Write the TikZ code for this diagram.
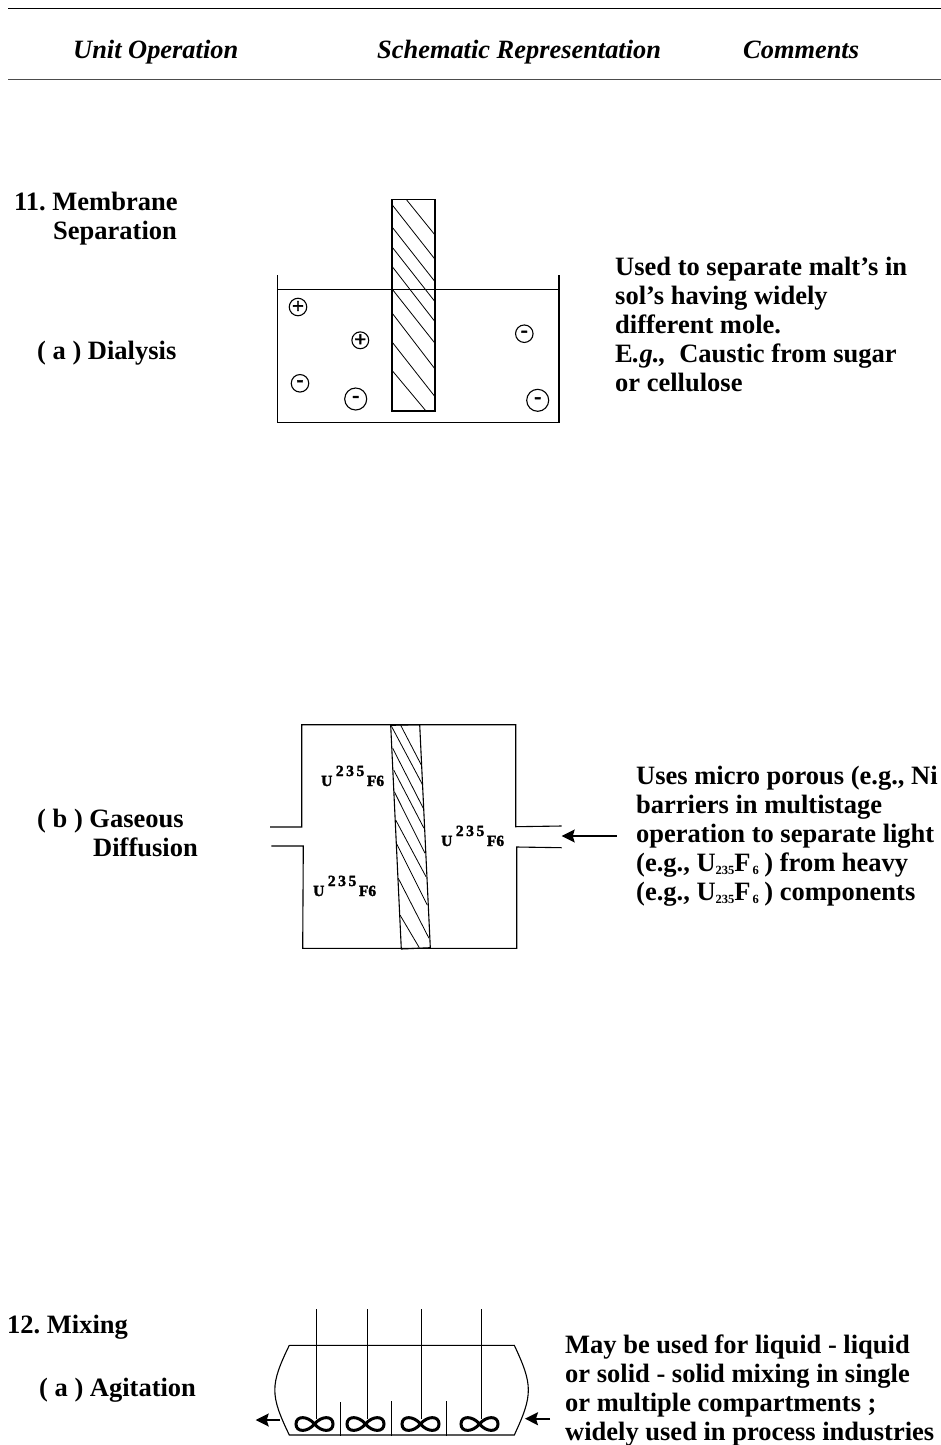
\documentclass[tikz,border=0pt]{standalone}
\usepackage{fontspec}
\setmainfont{Liberation Serif}
\newfontface\heavyfont[FakeBold=2]{Liberation Serif Bold}
\usetikzlibrary{arrows.meta}
\frenchspacing
\newcommand{\ufsub}{U\raisebox{-3pt}{\fontsize{12.5}{12.5}\selectfont 235}F\raisebox{-3pt}{\fontsize{12.5}{12.5}\selectfont\,6}\hspace{5.5pt}}
\newcommand{\uhex}{U\hspace{3.5pt}\raisebox{10pt}{2\,3\,5}\,F6}
\tikzset{
  label text/.style={anchor=base west,inner sep=0pt,font=\fontsize{26.5}{29}\selectfont\bfseries,align=left},
  head text/.style={anchor=base west,inner sep=0pt,font=\fontsize{26.4}{29}\selectfont\bfseries\itshape},
  chem text/.style={anchor=base west,inner sep=0pt,font=\fontsize{15.5}{15.5}\selectfont\heavyfont},
  wall/.style={line width=1.1pt},
  hatch/.style={line width=0.8pt},
  flow/.style={line width=1.7pt,-{Stealth[length=13pt,width=13pt,inset=2pt]}},
  ion/.style={draw,circle,line width=1.1pt,inner sep=0pt,minimum size=17.5pt,font=\fontsize{21}{21}\selectfont\heavyfont},
  big ion/.style={ion,minimum size=22pt},
  impeller/.pic={
    \draw[line width=3pt] (0,0) .. controls (7,-8.5) and (18.5,-8.5) .. (18.5,0) .. controls (18.5,8.5) and (7,8.5) .. (0,0)
      .. controls (-7,-8.5) and (-18.5,-8.5) .. (-18.5,0) .. controls (-18.5,8.5) and (-7,8.5) .. (0,0);
  }
}
\begin{document}
\begin{tikzpicture}[x=1pt,y=-1pt]
  \useasboundingbox (0,0) rectangle (941,1445);
  % header
  \draw[line width=1.1pt] (8,8.5) -- (941,8.5);
  \draw[line width=1.6pt,black!70] (8,79.5) -- (941,79.5);
  \node[head text] (unitop) at (73,59) {Unit Operation};
  \node[head text] (schem) at (377,59) {Schematic Representation};
  \node[head text] (comm) at (743,58.5) {Comments};
  % dialysis
  \node[label text] (memb) at (14,210) {11. Membrane};
  \node[label text] (sepa) at (53,239) {Separation};
  \node[label text] (dial) at (37,359) {( a ) Dialysis};
  \node[label text] (dialnote) at (615,391) {Used to separate malt's in\\sol's having widely\\different mole.\\E\textit{.g.,}\ \ Caustic from sugar\\or cellulose};
  \draw[wall] (277.5,275) -- (277.5,422.7) -- (559,422.7) -- (559,275);
  \draw[wall] (277.5,289.5) -- (559,289.5);
  \draw[wall] (392,199.3) rectangle (435,411);
  \begin{scope}[hatch]
    \draw (406.7,200) -- (435,235);
    \draw (392.3,205) -- (435,259.3);
    \draw (392.3,227.3) -- (435,281.7);
    \draw (392.3,247.3) -- (435,301.7);
    \draw (392.3,266.7) -- (435,321.7);
    \draw (392.3,289.3) -- (435,343.3);
    \draw (392.3,313.3) -- (435,369);
    \draw (392.3,342.3) -- (435,396.7);
    \draw (392.3,370.7) -- (426,411);
  \end{scope}
  \node[ion] (plusa) at (298,307) {+};
  \node[ion,minimum size=16.5pt] (plusb) at (360.3,340.3) {+};
  \node[ion] (minusa) at (524.3,333.7) {-\hspace{3pt}};
  \node[ion] (minusb) at (300,383.3) {-};
  \node[big ion] (minusc) at (355.7,399) {-\hspace{3pt}};
  \node[big ion] (minusd) at (537.7,400.3) {-\hspace{3pt}};
  % gaseous diffusion
  \node[label text] (gas) at (37,827) {( b ) Gaseous};
  \node[label text] (diff) at (93,856) {Diffusion};
  \node[label text] (diffnote) at (636,900) {Uses micro porous (e.g., Ni\\barriers in multistage\\operation to separate light\\(e.g., \ufsub) from heavy\\(e.g., \ufsub) components};
  \draw[wall] (270,827) -- (301.7,827) -- (301.7,724.7) -- (515.7,724.7) -- (515.7,826.7) -- (561.7,826);
  \draw[wall] (271.3,846) -- (303.3,846) -- (302.7,948.3) -- (516.7,948.3) -- (516.7,847) -- (561.7,847.7);
  \draw[wall] (390.7,725.3) -- (419.7,724.7) -- (430.3,947.7) -- (401.3,949) -- cycle;
  \begin{scope}[hatch]
    \draw (400.7,725.3) -- (421.3,765);
    \draw (391.5,726.3) -- (422.7,785);
    \draw (392.7,748.3) -- (423.3,808.3);
    \draw (393.7,770) -- (424,828.3);
    \draw (394.3,791.7) -- (425,853.3);
    \draw (395.7,820) -- (426,876.7);
    \draw (396.7,844) -- (427.3,905);
    \draw (398.3,878.3) -- (429,938.3);
    \draw (400,915) -- (419.3,947.7);
  \end{scope}
  \node[chem text] (ufa) at (321,786) {\uhex};
  \node[chem text] (ufb) at (313,896) {\uhex};
  \node[chem text] (ufc) at (441,846) {\uhex};
  \coordinate (feeda) at (616.7,836);
  \coordinate (feedb) at (561.7,836);
  \draw[flow] (feeda) -- (feedb);
  % agitation
  \node[label text] (mix) at (7,1333) {12. Mixing};
  \node[label text] (agit) at (39,1396) {( a ) Agitation};
  \node[label text] (agitnote) at (565,1440) {May be used for liquid - liquid\\or solid - solid mixing in single\\or multiple compartments ;\\widely used in process industries};
  \draw[wall] (289.3,1345.3) -- (514.3,1345.3) .. controls (533,1385) and (533,1395) .. (514.3,1435)
    -- (289.3,1435) .. controls (270,1395) and (270,1385) .. (289.3,1345.3);
  \draw[wall] (316.3,1309) -- (316.3,1419);
  \draw[wall] (367.3,1309) -- (367.3,1419);
  \draw[wall] (421.7,1309) -- (421.7,1419);
  \draw[wall] (481.3,1309) -- (481.3,1419);
  \draw[wall] (340.3,1402) -- (340.3,1436);
  \draw[wall] (391.7,1401) -- (391.7,1436);
  \draw[wall] (446.3,1401) -- (446.3,1436);
  \pic at (314.5,1424) {impeller};
  \pic at (365.5,1424) {impeller};
  \pic at (420.5,1424) {impeller};
  \pic at (479.5,1424) {impeller};
  \coordinate (outa) at (280,1420);
  \coordinate (outb) at (255.7,1420);
  \coordinate (ina) at (550,1418.7);
  \coordinate (inb) at (525,1418.7);
  \draw[flow] (outa) -- (outb);
  \draw[flow] (ina) -- (inb);
\end{tikzpicture}
\end{document}
